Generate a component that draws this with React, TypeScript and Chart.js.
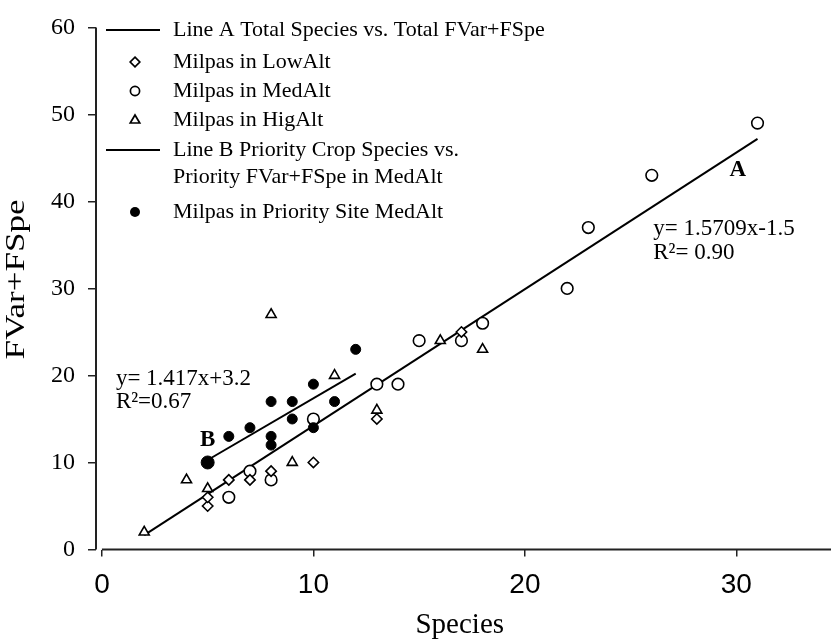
import React, { useEffect, useRef } from 'react';
import { Chart, registerables } from 'chart.js';

Chart.register(...registerables);

// ---- data ----
const lowAltX = [5, 5, 6, 7, 8, 10, 13, 17];
const lowAltY = [5, 6, 8, 8, 9, 10, 15, 25];
const medAltX = [6, 7, 8, 10, 13, 14, 15, 17, 18, 22, 23, 26, 31];
const medAltY = [6, 9, 8, 15, 19, 19, 24, 24, 26, 30, 37, 43, 49];
const higAltX = [2, 4, 5, 8, 9, 11, 13, 16, 18];
const higAltY = [2, 8, 7, 27, 10, 20, 16, 24, 23];
const priorityX = [5, 6, 7, 8, 8, 8, 9, 9, 10, 10, 11, 12];
const priorityY = [10, 13, 14, 12, 13, 17, 15, 17, 14, 19, 17, 23];

const lineASlope = 1.5709;
const lineAIntercept = -1.5;
const lineAXRange = [2, 31];
const lineBSlope = 1.417;
const lineBIntercept = 3.2;
const lineBXRange = [5, 12];

const xTickValues = [0, 10, 20, 30];
const yTickValues = [0, 10, 20, 30, 40, 50, 60];

const xTitle = 'Species';
const yTitle = 'FVar+FSpe';

const legendItems = [
  { kind: 'line', text: ['Line A Total Species vs. Total FVar+FSpe'] },
  { kind: 'diamond', text: ['Milpas in LowAlt'] },
  { kind: 'circle', text: ['Milpas in MedAlt'] },
  { kind: 'triangle', text: ['Milpas in HigAlt'] },
  { kind: 'line', text: ['Line B Priority Crop Species vs.', 'Priority FVar+FSpe in MedAlt'] },
  { kind: 'dot', text: ['Milpas in Priority Site MedAlt'] },
];

const annotationTexts = [
  { text: 'y= 1.417x+3.2', x: 0.66, y: 19.55, bold: false },
  { text: 'R\u00B2=0.67', x: 0.66, y: 16.96, bold: false },
  { text: 'B', x: 4.64, y: 12.56, bold: true },
  { text: 'A', x: 29.67, y: 43.55, bold: true },
  { text: 'y= 1.5709x-1.5', x: 26.07, y: 36.79, bold: false },
  { text: 'R\u00B2= 0.90', x: 26.07, y: 34.08, bold: false },
];

const toPoints = (xs: number[], ys: number[]) => xs.map((x, i) => ({ x, y: ys[i] }));
const linePoints = (slope: number, intercept: number, range: number[]) =>
  range.map((x) => ({ x, y: slope * x + intercept }));

const SERIF = '"Liberation Serif", "Times New Roman", serif';

function drawMarker(ctx: CanvasRenderingContext2D, kind: string, x: number, y: number) {
  ctx.save();
  ctx.lineWidth = 1.7;
  ctx.strokeStyle = '#000';
  ctx.fillStyle = '#fff';
  ctx.beginPath();
  if (kind === 'diamond') {
    const r = 4.8;
    ctx.moveTo(x, y - r);
    ctx.lineTo(x + r, y);
    ctx.lineTo(x, y + r);
    ctx.lineTo(x - r, y);
    ctx.closePath();
    ctx.fill();
    ctx.stroke();
  } else if (kind === 'circle') {
    ctx.arc(x, y, 4.6, 0, Math.PI * 2);
    ctx.fill();
    ctx.stroke();
  } else if (kind === 'triangle') {
    const r = 5;
    ctx.moveTo(x, y - r);
    ctx.lineTo(x + r * 0.95, y + r * 0.6);
    ctx.lineTo(x - r * 0.95, y + r * 0.6);
    ctx.closePath();
    ctx.fill();
    ctx.stroke();
  } else if (kind === 'dot') {
    ctx.fillStyle = '#000';
    ctx.arc(x, y, 5, 0, Math.PI * 2);
    ctx.fill();
  }
  ctx.restore();
}

const decorPlugin = {
  id: 'decor',
  beforeDatasetsDraw(chart: any) {
    const { ctx, chartArea, scales } = chart;
    ctx.save();
    ctx.strokeStyle = '#222';
    ctx.lineWidth = 2;
    // y axis line
    ctx.beginPath();
    ctx.moveTo(chartArea.left, chartArea.top);
    ctx.lineTo(chartArea.left, chartArea.bottom);
    ctx.stroke();
    // x axis line (detached, starts at x = 0, runs to the right edge)
    ctx.beginPath();
    ctx.moveTo(scales.x.getPixelForValue(0), chartArea.bottom);
    ctx.lineTo(chart.width, chartArea.bottom);
    ctx.stroke();
    ctx.restore();
  },
  afterDraw(chart: any) {
    const { ctx, scales, chartArea } = chart;
    ctx.save();
    // y axis title (stretched along its length like the reference)
    ctx.save();
    ctx.translate(17, (chartArea.top + chartArea.bottom) / 2 - 9);
    ctx.rotate(-Math.PI / 2);
    ctx.scale(1.3, 1);
    ctx.font = `27px ${SERIF}`;
    ctx.fillStyle = '#000';
    ctx.textAlign = 'center';
    ctx.textBaseline = 'middle';
    ctx.fillText(yTitle, 0, 0);
    ctx.restore();
    // annotations
    ctx.fillStyle = '#000';
    ctx.textAlign = 'left';
    ctx.textBaseline = 'middle';
    for (const a of annotationTexts) {
      ctx.font = `${a.bold ? 'bold ' : ''}23px ${SERIF}`;
      ctx.fillText(a.text, scales.x.getPixelForValue(a.x), scales.y.getPixelForValue(a.y));
    }
    // legend
    const rowYs = [30, 62, 91, 120, 150, 212];
    const lineGap = 27;
    ctx.font = `22px ${SERIF}`;
    legendItems.forEach((item, i) => {
      const y = rowYs[i];
      if (item.kind === 'line') {
        ctx.strokeStyle = '#000';
        ctx.lineWidth = 2;
        ctx.beginPath();
        ctx.moveTo(106, y);
        ctx.lineTo(160, y);
        ctx.stroke();
      } else {
        drawMarker(ctx, item.kind, 135, y);
      }
      ctx.fillStyle = '#000';
      item.text.forEach((t, j) => ctx.fillText(t, 173, y + j * lineGap));
    });
    ctx.restore();
  },
};

export default function App() {
  const canvasRef = useRef<HTMLCanvasElement | null>(null);

  useEffect(() => {
    const canvas = canvasRef.current;
    if (!canvas) return;
    const openStyle = {
      borderColor: '#000',
      backgroundColor: '#fff',
      borderWidth: 1.6,
      order: 1,
    };
    const chart = new Chart(canvas, {
      type: 'scatter',
      data: {
        datasets: [
          {
            type: 'line',
            label: 'Line A',
            data: linePoints(lineASlope, lineAIntercept, lineAXRange),
            borderColor: '#000',
            borderWidth: 2,
            pointRadius: 0,
            fill: false,
            order: 10,
          } as any,
          {
            type: 'line',
            label: 'Line B',
            data: linePoints(lineBSlope, lineBIntercept, lineBXRange),
            borderColor: '#000',
            borderWidth: 2,
            pointRadius: 0,
            fill: false,
            order: 10,
          } as any,
          {
            label: 'Milpas in LowAlt',
            data: toPoints(lowAltX, lowAltY),
            pointStyle: 'rectRot',
            pointRadius: 5.2,
            ...openStyle,
          },
          {
            label: 'Milpas in MedAlt',
            data: toPoints(medAltX, medAltY),
            pointStyle: 'circle',
            pointRadius: 5.8,
            ...openStyle,
          },
          {
            label: 'Milpas in HigAlt',
            data: toPoints(higAltX, higAltY),
            pointStyle: 'triangle',
            pointRadius: 5.8,
            ...openStyle,
          },
          {
            label: 'Milpas in Priority Site MedAlt',
            data: toPoints(priorityX, priorityY),
            pointStyle: 'circle',
            pointRadius: priorityX.map((_, i) => (i === 0 ? 6.5 : 5)),
            borderColor: '#000',
            backgroundColor: '#000',
            borderWidth: 1,
            order: 0,
          },
        ],
      },
      options: {
        animation: false,
        responsive: false,
        devicePixelRatio: 1,
        layout: { padding: { top: 17, right: 0, left: 0, bottom: 0 } },
        plugins: {
          legend: { display: false },
          tooltip: { enabled: false },
        },
        scales: {
          x: {
            type: 'linear',
            min: -0.28,
            max: 34.12,
            afterBuildTicks: (s: any) => {
              s.ticks = xTickValues.map((v) => ({ value: v }));
            },
            afterFit: (s: any) => {
              s.height = 90.5;
            },
            ticks: {
              color: '#000',
              padding: 12,
              font: { family: '"Liberation Sans Narrow", "Arial Narrow", sans-serif', size: 28 },
            },
            grid: {
              display: true,
              drawOnChartArea: false,
              drawTicks: true,
              tickLength: 7,
              color: '#222',
              lineWidth: 1.5,
            },
            border: { display: false },
            title: {
              display: true,
              text: xTitle,
              color: '#000',
              padding: 0,
              font: { family: SERIF, size: 29, lineHeight: 1 },
            },
          },
          y: {
            type: 'linear',
            min: 0,
            max: 60,
            afterBuildTicks: (s: any) => {
              s.ticks = yTickValues.map((v) => ({ value: v }));
            },
            afterFit: (s: any) => {
              s.width = 96;
            },
            ticks: {
              color: '#000',
              padding: 13,
              font: { family: SERIF, size: 24 },
            },
            grid: {
              display: true,
              drawOnChartArea: false,
              drawTicks: true,
              tickLength: 8,
              color: '#222',
              lineWidth: 1.5,
            },
            border: { display: false },
            title: { display: false },
          },
        },
      },
      plugins: [decorPlugin],
    } as any);
    return () => chart.destroy();
  }, []);

  return (
    <div style={{ position: 'absolute', left: 0, top: 0, width: 831, height: 640, background: '#fff' }}>
      <canvas ref={canvasRef} width={831} height={640} style={{ width: 831, height: 640 }} />
    </div>
  );
}
